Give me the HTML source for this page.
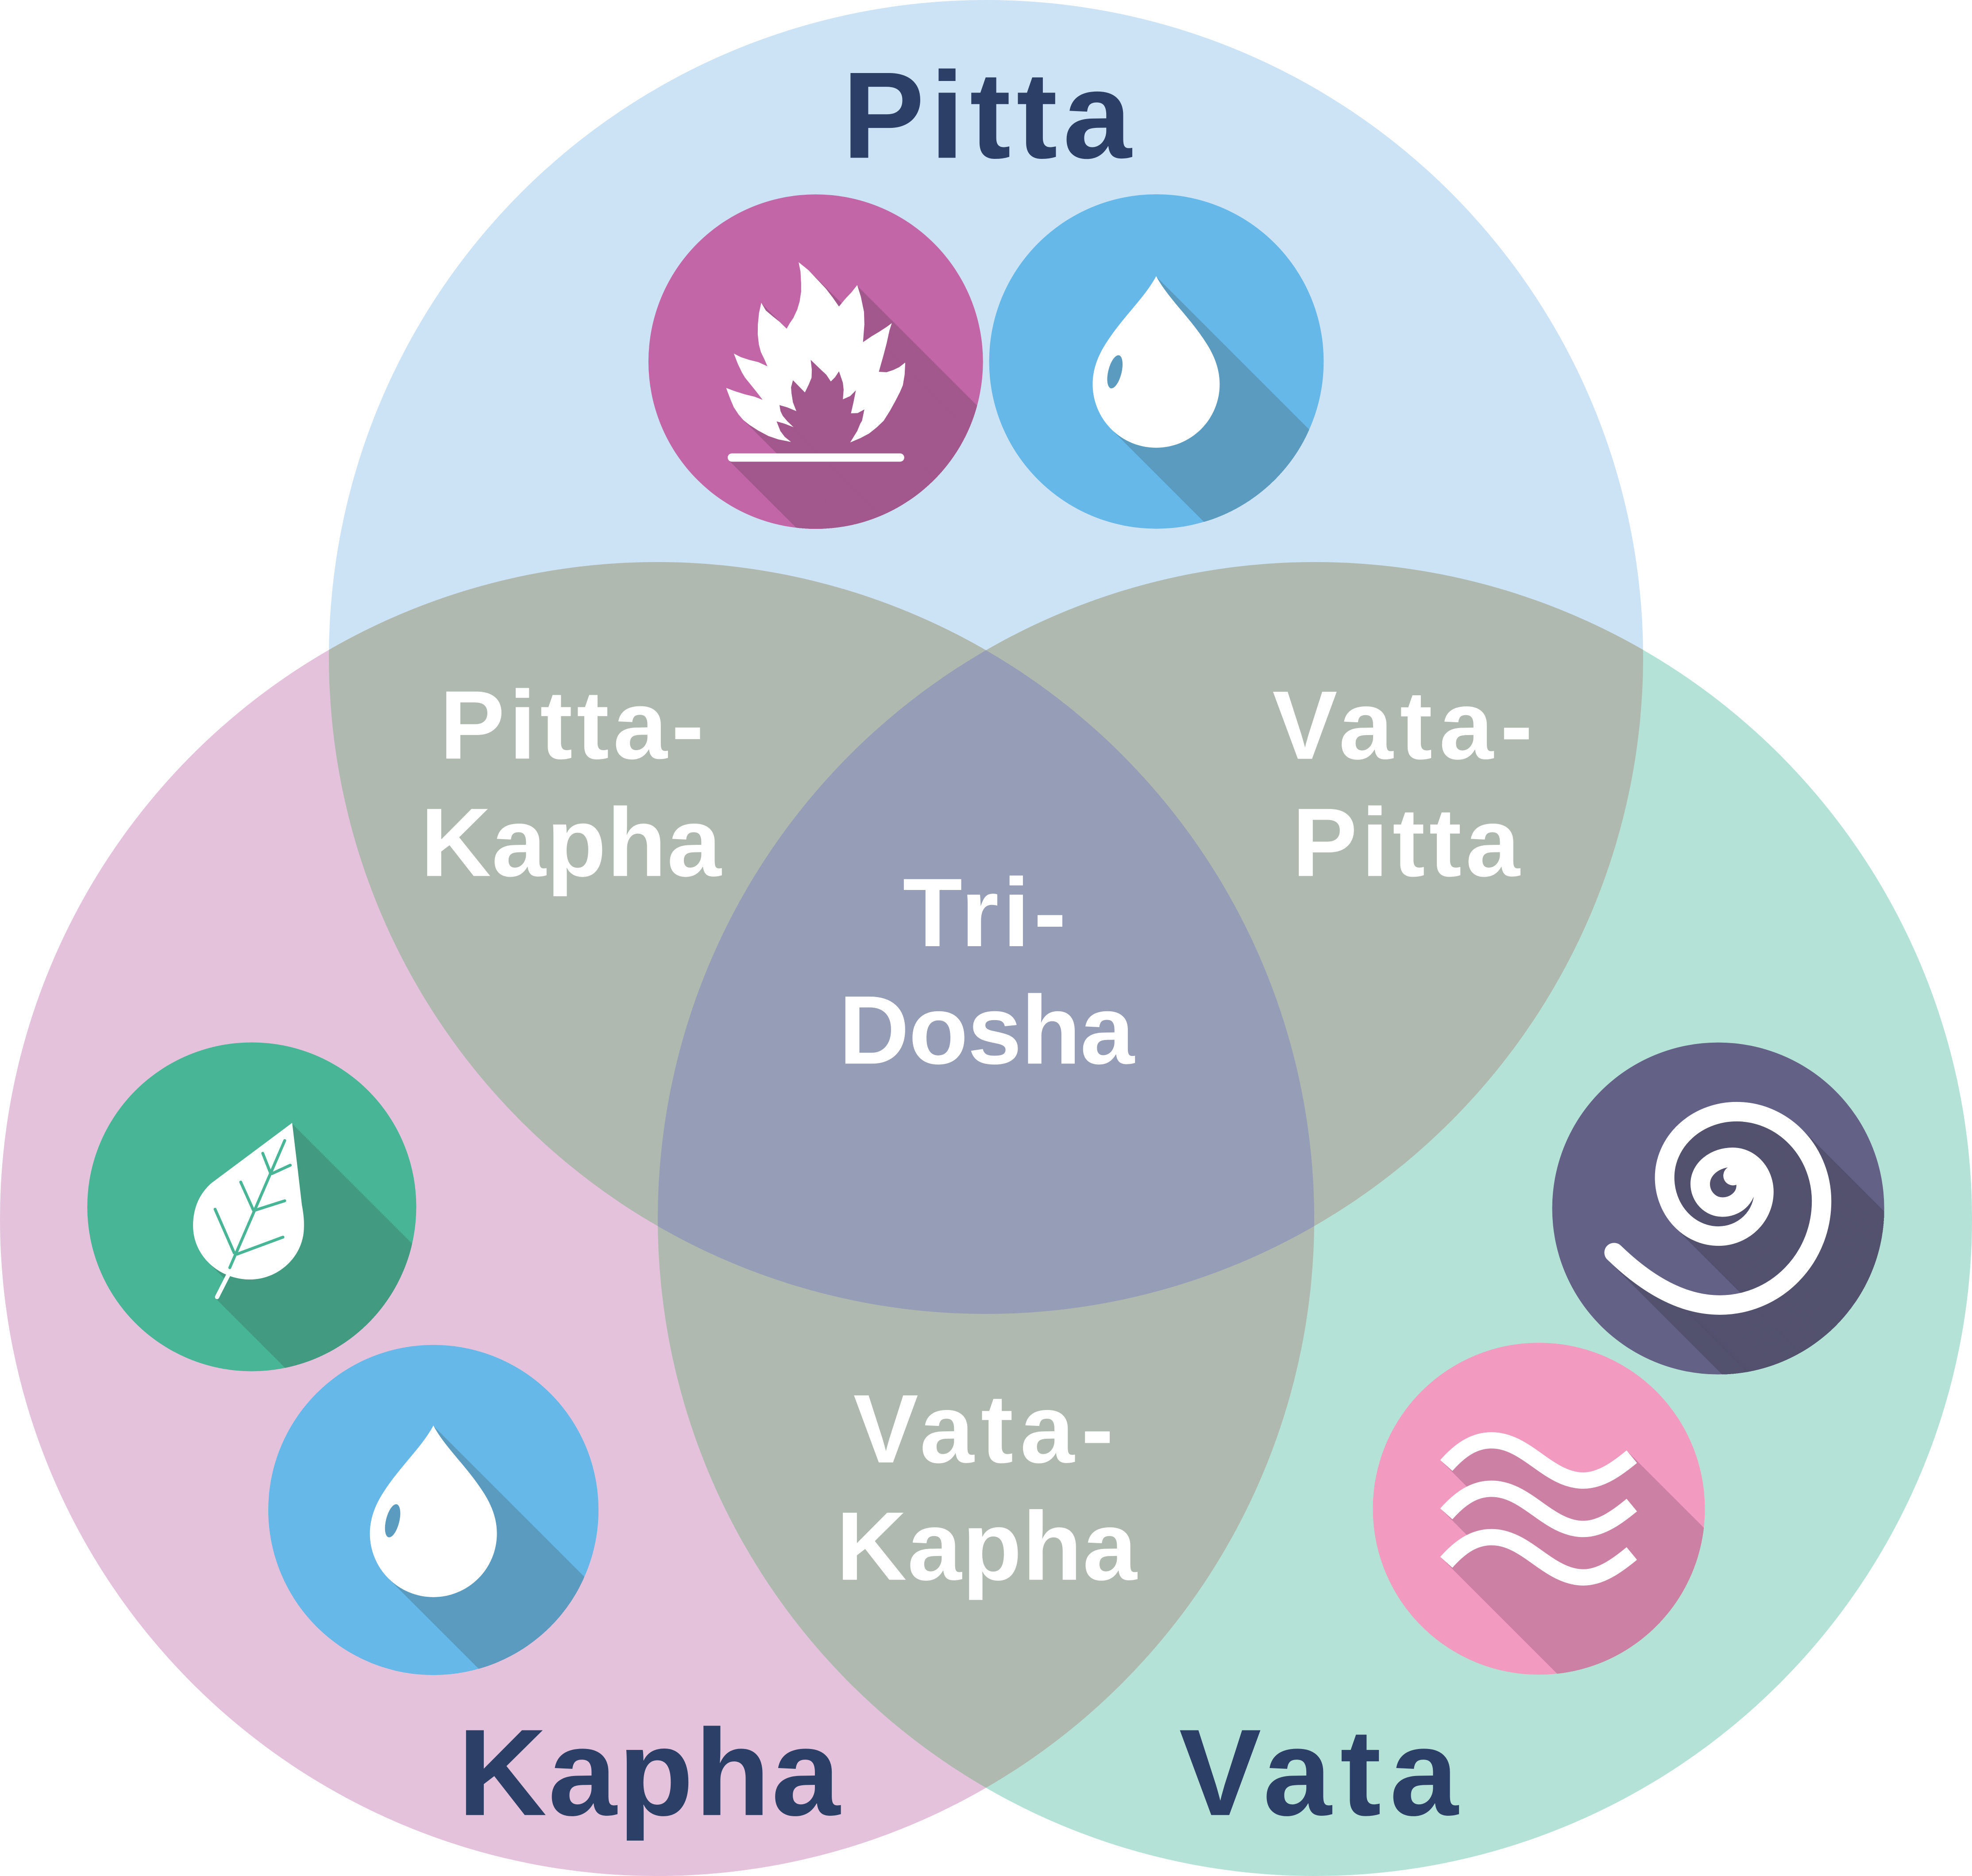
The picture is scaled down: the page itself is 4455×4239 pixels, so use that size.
<!DOCTYPE html>
<html>
<head>
<meta charset="utf-8">
<style>
html,body{margin:0;padding:0;background:#ffffff;width:4455px;height:4239px;overflow:hidden}
svg{display:block}
text{font-family:"Liberation Sans",Arial,sans-serif;font-weight:700}
</style>
</head>
<body>
<svg xmlns="http://www.w3.org/2000/svg" width="4455" height="4239" viewBox="0 0 1568 1492" preserveAspectRatio="none">
<defs>
  <clipPath id="cT"><circle cx="784" cy="522.5" r="522.5"/></clipPath>
  <clipPath id="cL"><circle cx="522.5" cy="969.5" r="522.5"/></clipPath>
  <clipPath id="c1"><circle cx="648.6" cy="287.6" r="133"/></clipPath>
  <clipPath id="c2"><circle cx="919.5" cy="287.5" r="133"/></clipPath>
  <clipPath id="c3"><circle cx="200.2" cy="959.8" r="130.8"/></clipPath>
  <clipPath id="c4"><circle cx="344.6" cy="1200.9" r="131.3"/></clipPath>
  <clipPath id="c5"><circle cx="1366.2" cy="961.1" r="132"/></clipPath>
  <clipPath id="c6"><circle cx="1223.6" cy="1199.9" r="132"/></clipPath>

  <g id="a0">
    <path stroke="none" d="M635,208.5 L643,215 L649.2,221.6 L656.8,229.7 L662,236.5 L667.1,243.8 L672,237.8 L677,232.5 L681.6,226.7 L684.5,236 L687,248 L687.3,258 L686.2,272.1 L693,267.5 L698.8,264 L705,260 L709.1,257 L707.2,263 L705,273 L702.6,282.2 L698.8,295.7 L705,296 L710.2,294.3 L715,292 L719.8,288.3 L719.3,298 L717.9,306.4 L715.5,312 L712.1,318.6 L707.5,327 L702.6,334.7 L697,340 L691,344.8 L684,348.5 L676,351.9 L679,347 L681.6,342.8 L684,337 L685.4,334.7 L687.3,325.6 L682,328.5 L676.6,328.7 L678.5,320.6 L680.5,310.5 L676,315 L670.2,317.6 L670.8,310 L670.2,304.4 L667.1,295.3 L664,300 L660.6,303.4 L657,298 L653,294.3 L644.6,286.2 L645.5,294 L645.3,300.4 L643,306 L640,312.1 L636,308 L630.5,302.4 L629,308 L629.3,312.5 L630.5,320 L633.2,327 L626,324 L619.8,322.2 L620.6,327 L622.4,330.7 L626,335 L631,339.8 L624,337 L617.5,335.1 L619,339 L620.5,342.8 L624,347.5 L629,351.5 L619,349.5 L611,346.8 L603,342.5 L595.7,337.8 L591,334 L587.3,329.7 L583.5,324 L581.2,318.6 L579,313 L577.4,308.5 L584,311 L591.9,313.5 L600,315.5 L606.4,318 L601,311 L595.7,304.4 L592.5,300.5 L590,296.4 L586.5,289 L583.5,281.2 L589,284 L595.7,286.2 L603,288 L610.2,291.3 L608,286.2 L605,280 L603.4,274.1 L602.5,266 L602.6,258 L603.5,249 L605.3,240.8 L609,247 L614.8,251.9 L620,256 L625.5,261.4 L628,257 L630.8,252.9 L634,246 L635.8,239.8 L637,232 L637,225.6 L636.5,216 Z"/>
    <rect stroke="none" x="578.6" y="360.6" width="140.4" height="6.6" rx="3.3"/>
    <path stroke="none" d="M232.3,893 L236.5,928 L240,958 C241.5,966 242,972 241.6,978 C240.5,1000 221,1018 197.8,1017.6 C173,1017 153.5,998 153.5,975 C153.5,960 159,949 168,941 Z"/>
    <line fill="none" stroke-width="3.4" stroke-linecap="round" x1="181.5" y1="1014" x2="172.6" y2="1031.5"/>
    <path fill="none" stroke-width="15.5" stroke-linecap="round" d="M1283.4,996.2 C1310,1022 1338,1038 1367.6,1037.9 A80.8,82.6 0 0 0 1448.4,955.3 A67.6,71.2 0 0 0 1380.8,884.1 A57.2,52.4 0 0 0 1323.6,936.5 A42.8,46.6 0 0 0 1366.4,983.1 A36.1,35.3 0 0 0 1402.5,947.8 A24.8,27.4 0 0 0 1377.7,920.4 A25.8,21.1 0 0 0 1351.9,941.5 A17.6,18.5 0 0 0 1369.5,960 A18.9,17 0 0 0 1388.4,943 Q1389,931 1378,935"/>
    <path fill="none" stroke-width="13" d="M1150,1165.5 C1162,1152 1173,1145.5 1186,1145.5 C1214,1145.5 1231,1177.5 1259,1177.5 C1273,1177.5 1286,1168 1297.5,1158.5 M1150,1204 C1162,1190.5 1173,1184 1186,1184 C1214,1184 1231,1216 1259,1216 C1273,1216 1286,1206.5 1297.5,1197 M1150,1242.5 C1162,1229 1173,1222.5 1186,1222.5 C1214,1222.5 1231,1254.5 1259,1254.5 C1273,1254.5 1286,1245 1297.5,1235.5"/>
  </g>
  <g id="a1"><use href="#a0"/><use href="#a0" x="1" y="1"/></g>
  <g id="a2"><use href="#a1"/><use href="#a1" x="2" y="2"/></g>
  <g id="a3"><use href="#a2"/><use href="#a2" x="4" y="4"/></g>
  <g id="a4"><use href="#a3"/><use href="#a3" x="8" y="8"/></g>
  <g id="a5"><use href="#a4"/><use href="#a4" x="16" y="16"/></g>
  <g id="a6"><use href="#a5"/><use href="#a5" x="32" y="32"/></g>
  <g id="a7"><use href="#a6"/><use href="#a6" x="64" y="64"/></g>

  <path id="d0" d="M0,0 C9,17 26,32 39,52 C47,64 50.5,75 50.5,86 A50.5,50.5 0 0 1 -50.5,86 C-50.5,75 -47,64 -39,52 C-26,32 -9,17 0,0 Z"/>
  <g id="d1"><use href="#d0"/><use href="#d0" x="1" y="1"/></g>
  <g id="d2"><use href="#d1"/><use href="#d1" x="2" y="2"/></g>
  <g id="d3"><use href="#d2"/><use href="#d2" x="4" y="4"/></g>
  <g id="d4"><use href="#d3"/><use href="#d3" x="8" y="8"/></g>
  <g id="d5"><use href="#d4"/><use href="#d4" x="16" y="16"/></g>
  <g id="d6"><use href="#d5"/><use href="#d5" x="32" y="32"/></g>
  <g id="d7"><use href="#d6"/><use href="#d6" x="64" y="64"/></g>
</defs>

<!-- background -->
<rect x="0" y="0" width="1568" height="1492" fill="#ffffff"/>
<circle cx="784" cy="522.5" r="522.5" fill="#CCE2F5"/>
<circle cx="522.5" cy="969.5" r="522.5" fill="#E5C2DC"/>
<circle cx="1045.5" cy="969.5" r="522.5" fill="#B5E2D7"/>
<g fill="#AFB9B0">
  <circle cx="522.5" cy="969.5" r="522.5" clip-path="url(#cT)"/>
  <circle cx="1045.5" cy="969.5" r="522.5" clip-path="url(#cT)"/>
  <circle cx="1045.5" cy="969.5" r="522.5" clip-path="url(#cL)"/>
</g>
<g clip-path="url(#cT)">
  <circle cx="1045.5" cy="969.5" r="522.5" fill="#969DB6" clip-path="url(#cL)"/>
</g>

<!-- icon circles -->
<circle cx="648.6" cy="287.6" r="133" fill="#C266A7"/>
<circle cx="919.5" cy="287.5" r="133" fill="#65B8E7"/>
<circle cx="200.2" cy="959.8" r="130.8" fill="#48B596"/>
<circle cx="344.6" cy="1200.9" r="131.3" fill="#65B8E7"/>
<circle cx="1366.2" cy="961.1" r="132" fill="#636186"/>
<circle cx="1223.6" cy="1199.9" r="132" fill="#F39AC0"/>

<!-- long shadows -->
<g clip-path="url(#c1)"><use href="#a7" fill="#A2588C" stroke="#A2588C"/></g>
<g clip-path="url(#c3)"><use href="#a7" fill="#429A80" stroke="#429A80"/></g>
<g clip-path="url(#c5)"><use href="#a7" fill="#52516E" stroke="#52516E"/></g>
<g clip-path="url(#c6)"><use href="#a7" fill="#CC80A4" stroke="#CC80A4"/></g>
<g clip-path="url(#c2)"><use href="#d7" x="919.3" y="219.6" fill="#5A9BBF"/></g>
<g clip-path="url(#c4)"><use href="#d7" x="344.6" y="1133.7" fill="#5A9BBF"/></g>

<!-- white icons -->
<use href="#a0" fill="#ffffff" stroke="#ffffff"/>
<use href="#d0" x="919.3" y="219.6" fill="#ffffff"/>
<use href="#d0" x="344.6" y="1133.7" fill="#ffffff"/>

<!-- icon details -->
<ellipse cx="886.5" cy="295.7" rx="5.3" ry="13.5" transform="rotate(14 886.5 295.7)" fill="#5A9BBF"/>
<ellipse cx="312.2" cy="1209.5" rx="5.3" ry="13.5" transform="rotate(14 312.2 1209.5)" fill="#5A9BBF"/>
<g stroke="#48B596" stroke-width="2.3" stroke-linecap="round">
  <line x1="226.4" y1="907.1" x2="182.7" y2="1008.2"/>
  <line x1="171" y1="961.7" x2="186.2" y2="996.4"/>
  <line x1="191.4" y1="940.1" x2="201.6" y2="962.7"/>
  <line x1="208.9" y1="917.2" x2="215.3" y2="933.4"/>
  <line x1="188.5" y1="997.4" x2="225" y2="983.9"/>
  <line x1="202.2" y1="962.7" x2="226.4" y2="955"/>
  <line x1="216.2" y1="933.4" x2="230.8" y2="926.7"/>
</g>

<!-- main labels -->
<g fill="#2C3F66" font-size="98" text-anchor="middle">
  <text x="784.7" y="125.5" textLength="230" lengthAdjust="spacing">Pitta</text>
  <text x="516" y="1443.5" textLength="304" lengthAdjust="spacing">Kapha</text>
  <text x="1048.5" y="1443.5" textLength="222" lengthAdjust="spacing">Vata</text>
</g>

<!-- overlap labels -->
<g fill="#ffffff" font-size="77.5" text-anchor="middle">
  <text x="454.7" y="603.3" textLength="210" lengthAdjust="spacing">Pitta-</text>
  <text x="454" y="696.7" textLength="239" lengthAdjust="spacing">Kapha</text>
  <text x="1115.2" y="603.5" textLength="207" lengthAdjust="spacing">Vata-</text>
  <text x="1118" y="696.7" textLength="181" lengthAdjust="spacing">Pitta</text>
  <text x="782.8" y="752.5" textLength="130" lengthAdjust="spacing">Tri-</text>
  <text x="784.5" y="845.9" textLength="235" lengthAdjust="spacing">Dosha</text>
  <text x="782" y="1163.1" textLength="207" lengthAdjust="spacing">Vata-</text>
  <text x="784.5" y="1256.4" textLength="239" lengthAdjust="spacing">Kapha</text>
</g>
</svg>
</body>
</html>
